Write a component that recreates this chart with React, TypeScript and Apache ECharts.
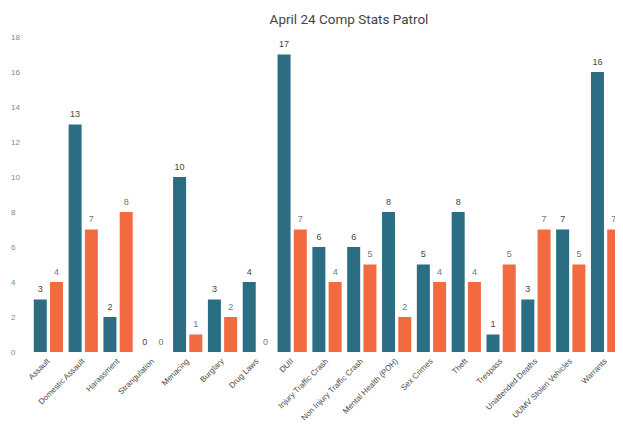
import React, { useEffect, useRef } from "react";
import * as echarts from "echarts";

const categories = [
  "Assault",
  "Domestic Assault",
  "Harassment",
  "Strangulation",
  "Menacing",
  "Burglary",
  "Drug Laws",
  "DUII",
  "Injury Traffic Crash",
  "Non Injury Traffic Crash",
  "Mental Health (POH)",
  "Sex Crimes",
  "Theft",
  "Trespass",
  "Unattended Deaths",
  "UUMV Stolen Vehicles",
  "Warrants",
];
const seriesA = [3, 13, 2, 0, 10, 3, 4, 17, 6, 6, 8, 5, 8, 1, 3, 7, 16];
const seriesB = [4, 7, 8, 0, 1, 2, 0, 7, 4, 5, 2, 4, 4, 5, 7, 5, 7];
const yTicks = [0, 2, 4, 6, 8, 10, 12, 14, 16, 18];

export default function App() {
  const ref = useRef<HTMLDivElement>(null);
  useEffect(() => {
    const chart = echarts.init(ref.current!, null, { renderer: "svg" });
    const mkLabel = (color: string) => ({
      show: true,
      position: "top" as const,
      color,
      fontSize: 9,
      fontWeight: "normal" as const,
      fontFamily: "Liberation Sans",
      distance: 6,
    });
    chart.setOption({
      animation: false,
      tooltip: { show: false },
      title: {
        text: "April 24 Comp Stats Patrol",
        left: 336,
        top: -1,
        textAlign: "center",
        textStyle: { fontSize: 13.5, fontWeight: "normal", color: "#444", fontFamily: "Roboto" },
      },
      grid: { left: 20, right: 0, top: 29, bottom: 80 },
      xAxis: {
        type: "category",
        data: categories,
        silent: true,
        axisLine: { show: false },
        axisTick: { show: false },
        axisPointer: { show: false },
        axisLabel: {
          rotate: 45,
          interval: 0,
          fontSize: 8,
          color: "#4a4a4a",
          margin: 8,
          fontFamily: "Liberation Sans",
        },
      },
      yAxis: {
        type: "value",
        min: yTicks[0],
        max: yTicks[yTicks.length - 1],
        interval: 2,
        silent: true,
        splitLine: { show: false },
        axisLine: { show: false },
        axisTick: { show: false },
        axisLabel: {
          fontSize: 8,
          color: "#888",
          margin: 20,
          fontFamily: "Liberation Sans",
          align: "left",
          formatter: (v: number) => (yTicks.includes(v) ? String(v) : ""),
        },
      },
      series: [
        {
          type: "bar",
          data: seriesA,
          silent: true,
          emphasis: { disabled: true },
          itemStyle: { color: "#2b6d82" },
          barWidth: 13,
          barGap: "25%",
          label: mkLabel("#444"),
        },
        {
          type: "bar",
          data: seriesB,
          silent: true,
          emphasis: { disabled: true },
          itemStyle: { color: "#f26a3f" },
          barWidth: 13,
          label: mkLabel("#777"),
        },
      ],
    });
    return () => chart.dispose();
  }, []);
  return <div ref={ref} style={{ width: 615, height: 424 }} />;
}
